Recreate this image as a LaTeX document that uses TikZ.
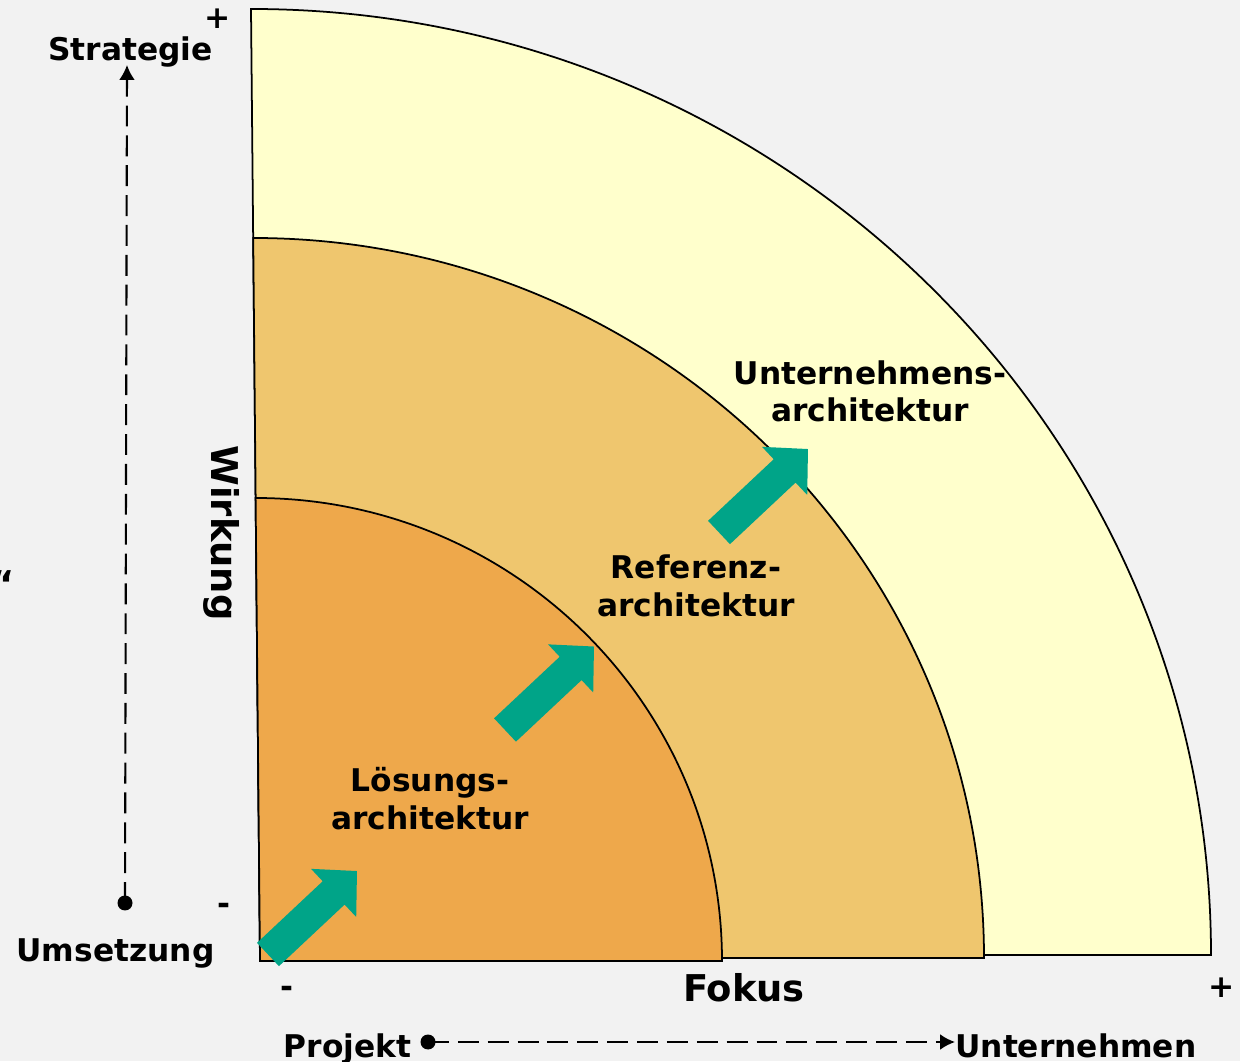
\documentclass[tikz,border=0pt]{standalone}
\usepackage{fontspec}
\setmainfont{DejaVu Sans}
\usetikzlibrary{arrows.meta,calc}
\definecolor{bgc}{HTML}{F2F2F2}
\definecolor{outerc}{HTML}{FFFFCC}
\definecolor{midc}{HTML}{EFC66E}
\definecolor{innerc}{HTML}{EEA84B}
\definecolor{tealc}{HTML}{00A488}
\begin{document}
\begin{tikzpicture}[x=0.02cm,y=0.02cm,
  zone/.style={draw=black,line width=1pt,line join=miter},
  lbl/.style={font=\bfseries\fontsize{17.8}{21.3}\selectfont,inner sep=0pt,align=center},
  biglbl/.style={font=\bfseries\fontsize{21}{25}\selectfont,inner sep=0pt},
  axisline/.style={line width=1.2pt,dash pattern=on 11.9pt off 5.1pt,-{Latex[length=8.5pt,width=9pt]}},
  tealarrow/.pic={\fill[tealc] (0,-16) -- (90,-16) -- (90,-33) -- (122,0) -- (90,33) -- (90,16) -- (0,16) -- cycle;}
]
\fill[bgc] (0,0) rectangle (1240,1061);
\useasboundingbox (0,0) rectangle (1240,1061);

% zones
\draw[zone,fill=outerc] (260,106) -- (251,1052) arc[start angle=90,end angle=0,x radius=960,y radius=946] -- cycle;
\draw[zone,fill=midc] (260,103) -- (253.2,823) arc[start angle=90,end angle=0,x radius=730.8,y radius=720] -- cycle;
\draw[zone,fill=innerc] (260,100) -- (255.6,563) arc[start angle=90,end angle=0,x radius=466.4,y radius=463] -- cycle;

% teal block arrows
\pic[rotate=43.17] at (268,106.5) {tealarrow};
\pic[rotate=43.17] at (505,331) {tealarrow};
\pic[rotate=43.17] at (719,528.5) {tealarrow};

% zone labels
\node[lbl] (loes) at (430,262.5) {Lösungs-\\architektur};
\node[lbl] (ref) at (696,475) {Referenz-\\architektur};
\node[lbl] (unt) at (870,669.5) {Unternehmens-\\architektur};

% axis labels
\node[lbl,anchor=base] (strat) at (130.5,1000) {Strategie};
\node[lbl] (plustop) at (218,1042) {+};
\node[lbl,anchor=base] (minusleft) at (224,146.5) {-};
\node[lbl,anchor=base] (umset) at (115.5,99) {Umsetzung};
\node[lbl,anchor=base] (minusbot) at (287,63.5) {-};
\node[lbl,anchor=base] (projekt) at (347.5,4) {Projekt};
\node[biglbl,anchor=base] (fokus) at (744,59) {Fokus};
\node[lbl] (plusright) at (1222,73) {+};
\node[lbl,anchor=base west] (untern) at (955,4) {Unternehmen};
\node[biglbl,rotate=-90] (wirkung) at (222,528) {Wirkung};
\node[biglbl,anchor=base east] (quote) at (15,463) {“};

% axes
\coordinate (vdot) at (125,158);
\coordinate (vtop) at (127,996);
\coordinate (hdot) at (428,19);
\fill (vdot) circle (7.5);
\fill (hdot) circle (7.5);
\draw[axisline] (vdot) -- (vtop);
\draw[axisline] (hdot) -- (hdot -| untern.west);
\end{tikzpicture}
\end{document}
